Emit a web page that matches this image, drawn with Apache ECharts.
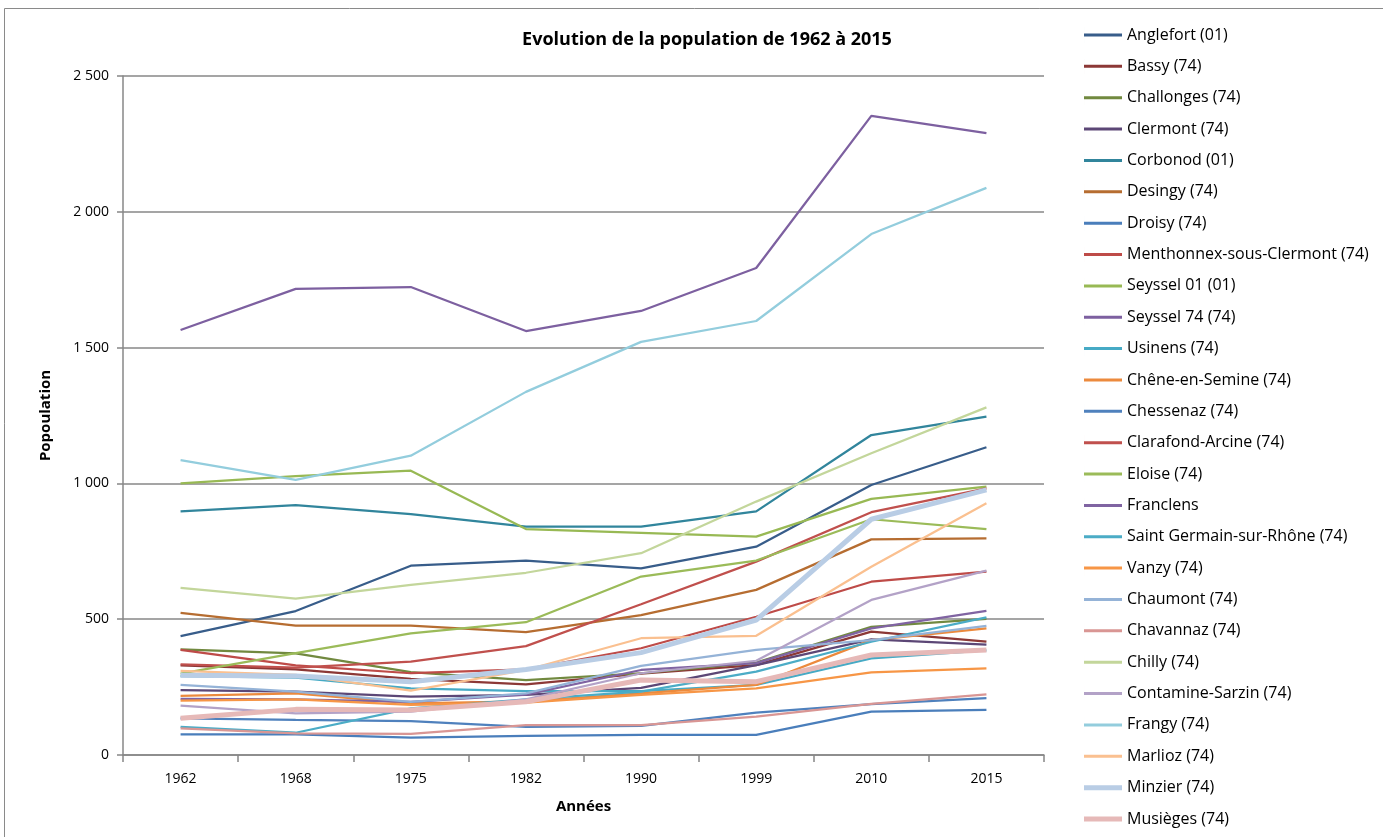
<!DOCTYPE html>
<html>
<head>
<meta charset="utf-8">
<script src="https://cdn.jsdelivr.net/npm/echarts@6/dist/echarts.min.js"></script>
<style>
html,body{margin:0;padding:0;background:#fff;}
#chart{width:1383px;height:837px;}
</style>
</head>
<body>
<div id="chart"></div>
<script>
// ---- Data ----
const years = ['1962','1968','1975','1982','1990','1999','2010','2015'];
const seriesNames = [
  'Anglefort (01)','Bassy (74)','Challonges (74)','Clermont (74)','Corbonod (01)','Desingy (74)',
  'Droisy (74)','Menthonnex-sous-Clermont (74)','Seyssel 01 (01)','Seyssel 74 (74)','Usinens (74)',
  'Chêne-en-Semine (74)','Chessenaz (74)','Clarafond-Arcine (74)','Eloise (74)','Franclens',
  'Saint Germain-sur-Rhône (74)','Vanzy (74)','Chaumont (74)','Chavannaz (74)','Chilly (74)',
  'Contamine-Sarzin (74)','Frangy (74)','Marlioz (74)','Minzier (74)','Musièges (74)'
];
const anglefort    = [438, 530, 697, 716, 687, 767, 994, 1133];
const bassy        = [330, 315, 280, 260, 300, 331, 454, 417];
const challonges   = [389, 374, 305, 276, 301, 340, 472, 501];
const clermont     = [239, 233, 215, 221, 247, 331, 426, 406];
const corbonod     = [897, 920, 887, 841, 841, 897, 1178, 1246];
const desingy      = [523, 476, 476, 452, 515, 608, 794, 798];
const droisy       = [76, 76, 64, 70, 74, 74, 160, 166];
const menthonnex   = [387, 330, 301, 315, 393, 509, 638, 675];
const seyssel01    = [1000, 1027, 1047, 832, 818, 804, 943, 988];
const seyssel74    = [1565, 1716, 1723, 1561, 1635, 1793, 2353, 2290];
const usinens      = [290, 285, 245, 235, 235, 258, 356, 385];
const cheneEnSemine= [218, 227, 190, 197, 227, 258, 423, 466];
const chessenaz    = [135, 129, 125, 104, 107, 156, 187, 209];
const clarafond    = [334, 322, 344, 401, 555, 712, 894, 982];
const eloise       = [300, 375, 448, 489, 657, 716, 868, 832];
const franclens    = [207, 205, 196, 222, 313, 338, 466, 531];
const saintGermain = [104, 82, 172, 205, 233, 307, 417, 507];
const vanzy        = [200, 205, 185, 193, 221, 245, 304, 319];
const chaumont     = [258, 233, 196, 227, 328, 387, 423, 475];
const chavannaz    = [98, 80, 78, 110, 110, 141, 188, 223];
const chilly       = [615, 576, 626, 671, 743, 933, 1111, 1280];
const contamine    = [182, 153, 160, 205, 301, 347, 571, 679];
const frangy       = [1086, 1013, 1102, 1337, 1521, 1598, 1918, 2088];
const marlioz      = [310, 295, 237, 313, 430, 439, 693, 927];
const minzier      = [294, 291, 270, 315, 377, 497, 868, 976];
const musieges     = [135, 168, 166, 196, 276, 270, 368, 387];
const yTicks = [0, 500, 1000, 1500, 2000, 2500];

const seriesValues = [anglefort, bassy, challonges, clermont, corbonod, desingy, droisy, menthonnex,
  seyssel01, seyssel74, usinens, cheneEnSemine, chessenaz, clarafond, eloise, franclens, saintGermain,
  vanzy, chaumont, chavannaz, chilly, contamine, frangy, marlioz, minzier, musieges];

// ---- Styles ----
const colors = ['#385D8A','#8C3836','#71893F','#5C4776','#31859C','#B66D31','#4A7EBB','#BE4B48',
  '#98B954','#7D60A0','#46AAC5','#EC8A3D','#4F81BD','#C0504D','#9BBB59','#8064A2','#4BACC6',
  '#F79646','#95B3D7','#D99694','#C3D69B','#B3A2C7','#93CDDD','#FAC090','#B9CDE5','#E6B9B8'];
const widths = seriesNames.map((n, i) => (i >= 24 ? 5 : 2.25));
const FONT = "'Open Sans', 'Noto Sans', sans-serif";
const gridColor = '#878787';
const thinIcon = 'path://M0,6.5 L38,6.5 L38,9.5 L0,9.5 Z M0,0 L0.01,0 L0.01,16 L0,16 Z';
const thickIcon = 'path://M0,5.5 L38,5.5 L38,10.5 L0,10.5 Z M0,0 L0.01,0 L0.01,16 L0,16 Z';

function fmt(v) {
  if (v >= 1000) return Math.floor(v / 1000) + ' ' + String(v % 1000).padStart(3, '0');
  return String(v);
}

const chart = echarts.init(document.getElementById('chart'), null, {renderer: 'canvas'});
chart.setOption({
  animation: false,
  backgroundColor: '#fff',
  textStyle: {fontFamily: FONT},
  title: {
    text: 'Evolution de la population de 1962 à 2015',
    left: 702, top: 26, textAlign: 'center',
    textStyle: {fontFamily: FONT, fontSize: 18, fontWeight: 'bold', color: '#000'}
  },
  graphic: [{
    type: 'rect', silent: true,
    shape: {x: 4.5, y: 8.5, width: 1500, height: 1000},
    style: {fill: 'none', stroke: '#8a8a8a', lineWidth: 1}
  }],
  legend: {
    orient: 'vertical', left: 1084, top: 27, padding: 0,
    itemWidth: 38, itemHeight: 16, itemGap: 15.36,
    data: seriesNames.map((n, i) => ({name: n, icon: i >= 24 ? thickIcon : thinIcon})),
    textStyle: {fontFamily: FONT, fontSize: 16, lineHeight: 16, color: '#000'}
  },
  grid: {left: 123, right: 339, top: 76, bottom: 82, containLabel: false},
  xAxis: {
    type: 'category', data: years, boundaryGap: true,
    axisLine: {lineStyle: {color: gridColor, width: 1.5}},
    axisTick: {show: true, length: 7, lineStyle: {color: gridColor, width: 1.5}},
    axisLabel: {margin: 17, fontSize: 14, color: '#000', fontFamily: FONT},
    name: 'Années', nameLocation: 'middle', nameGap: 44,
    nameTextStyle: {fontSize: 15, fontWeight: 'bold', color: '#000', fontFamily: FONT}
  },
  yAxis: {
    type: 'value', min: yTicks[0], max: yTicks[yTicks.length - 1], interval: 500,
    axisLine: {show: true, lineStyle: {color: gridColor, width: 1.5}},
    axisTick: {show: true, length: 6, lineStyle: {color: gridColor, width: 1.5}},
    axisLabel: {margin: 14, fontSize: 14, color: '#000', fontFamily: FONT, formatter: fmt},
    splitLine: {show: true, lineStyle: {color: gridColor, width: 1.5}},
    name: 'Popoulation', nameLocation: 'middle', nameGap: 70, nameRotate: 90,
    nameTextStyle: {fontSize: 15, fontWeight: 'bold', color: '#000', fontFamily: FONT}
  },
  series: seriesNames.map((name, i) => ({
    name: name, type: 'line', data: seriesValues[i],
    symbol: 'none', smooth: false,
    color: colors[i],
    lineStyle: {color: colors[i], width: widths[i]},
    itemStyle: {color: colors[i]}
  }))
});
</script>
</body>
</html>
